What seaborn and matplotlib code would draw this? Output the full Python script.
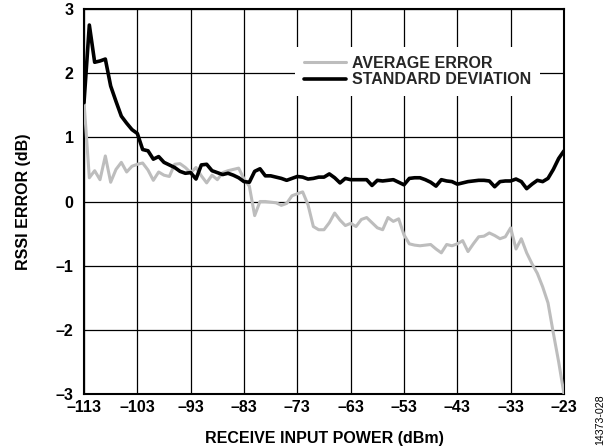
import matplotlib
matplotlib.use("Agg")
import matplotlib.pyplot as plt
import seaborn as sns
import pandas as pd
import numpy as np

power_dbm = list(range(-113, -22))

std_dev = [1.54, 2.75, 2.17, 2.19, 2.22, 1.80, 1.56, 1.33, 1.22, 1.12,
           1.06, 0.81, 0.79, 0.66, 0.70, 0.61, 0.57, 0.53, 0.47, 0.44,
           0.45, 0.35, 0.57, 0.58, 0.48, 0.45, 0.42, 0.44, 0.41, 0.37,
           0.31, 0.30, 0.47, 0.51, 0.40, 0.40, 0.38, 0.36, 0.33, 0.36,
           0.39, 0.38, 0.35, 0.36, 0.38, 0.38, 0.43, 0.37, 0.29, 0.36,
           0.34, 0.34, 0.34, 0.34, 0.25, 0.33, 0.32, 0.33, 0.34, 0.30,
           0.26, 0.36, 0.37, 0.37, 0.34, 0.30, 0.24, 0.34, 0.32, 0.31,
           0.27, 0.29, 0.31, 0.32, 0.33, 0.33, 0.32, 0.23, 0.31, 0.32,
           0.32, 0.35, 0.31, 0.20, 0.27, 0.33, 0.31, 0.36, 0.50, 0.67,
           0.79]

avg_error = [1.55, 0.37, 0.48, 0.34, 0.71, 0.30, 0.50, 0.61, 0.46, 0.55,
             0.58, 0.60, 0.49, 0.33, 0.46, 0.41, 0.39, 0.58, 0.59, 0.53,
             0.45, 0.53, 0.40, 0.29, 0.41, 0.34, 0.45, 0.48, 0.50, 0.52,
             0.35, 0.24, -0.22, 0.00, 0.00, -0.01, -0.02, -0.06, -0.03, 0.09,
             0.12, 0.15, -0.05, -0.39, -0.44, -0.44, -0.33, -0.18, -0.29, -0.375,
             -0.34, -0.39, -0.28, -0.25, -0.33, -0.41, -0.44, -0.25, -0.31, -0.27,
             -0.52, -0.66, -0.68, -0.69, -0.68, -0.67, -0.74, -0.80, -0.67, -0.69,
             -0.66, -0.61, -0.78, -0.66, -0.55, -0.54, -0.49, -0.53, -0.58, -0.55,
             -0.41, -0.74, -0.58, -0.80, -0.97, -1.12, -1.33, -1.58, -2.05, -2.50,
             -3.0]

series_names = ["AVERAGE ERROR", "STANDARD DEVIATION"]
x_ticks = [-113, -103, -93, -83, -73, -63, -53, -43, -33, -23]
y_ticks = [-3, -2, -1, 0, 1, 2, 3]

df = pd.DataFrame({
    "power": power_dbm * 2,
    "value": avg_error + std_dev,
    "series": [series_names[0]] * len(power_dbm) + [series_names[1]] * len(power_dbm),
})

sns.set_theme(style="white")
plt.rcParams['font.family'] = ['Liberation Sans', 'DejaVu Sans']
plt.rcParams['font.weight'] = 'bold'

FS = 11.5
LWS = [2.2, 2.6]

fig = plt.figure(figsize=(6.08, 4.47), dpi=100)
ax = fig.add_axes([84/608, 1 - 394/447, 480/608, 385/447])

sns.lineplot(data=df, x="power", y="value", hue="series", hue_order=series_names,
             palette={series_names[0]: "#bdbdbd", series_names[1]: "#000000"},
             ax=ax, legend=True, zorder=3)
for line, lw in zip(ax.lines, LWS):
    line.set_linewidth(lw)
    line.set_solid_joinstyle('round')

ax.set_xlim(-113, -23)
ax.set_ylim(-3, 3)
ax.set_xticks(x_ticks)
ax.set_yticks(y_ticks)
ax.set_xticklabels([str(t).replace('-', '\u2013') for t in x_ticks], fontsize=FS, fontweight='bold')
ax.set_yticklabels([str(t).replace('-', '\u2013') for t in y_ticks], fontsize=FS, fontweight='bold')
ax.tick_params(axis='both', length=0, colors='black')
ax.tick_params(axis='y', pad=7.5)
ax.tick_params(axis='x', pad=4.5)
ax.grid(True, color='black', linewidth=0.9)
ax.set_axisbelow(True)
for s in ax.spines.values():
    s.set_color('black')
    s.set_linewidth(1.5)
    s.set_visible(True)

ax.set_xlabel("RECEIVE INPUT POWER (dBm)", fontsize=FS, fontweight='bold', labelpad=11, color='black')
ax.set_ylabel("RSSI ERROR (dB)", fontsize=FS, fontweight='bold', labelpad=18, color='black')

handles, labels = ax.get_legend_handles_labels()
for h, lw in zip(handles, LWS):
    h.set_linewidth(lw)
leg = ax.legend(handles, labels, loc='upper right', bbox_to_anchor=(0.95, 0.901),
                frameon=True, fancybox=False, framealpha=1, facecolor='white',
                edgecolor='none', fontsize=FS, handlelength=2.6, handletextpad=0.4,
                labelspacing=0.1, borderpad=0.55, borderaxespad=0)
for t in leg.get_texts():
    t.set_fontweight('bold')
leg.set_zorder(5)

fig.text(600/608, 1 - 420/447, "14373-028", rotation=90, fontsize=7.7,
         fontweight='normal', ha='center', va='center', color='black')

fig.savefig("out.png", dpi=100)
